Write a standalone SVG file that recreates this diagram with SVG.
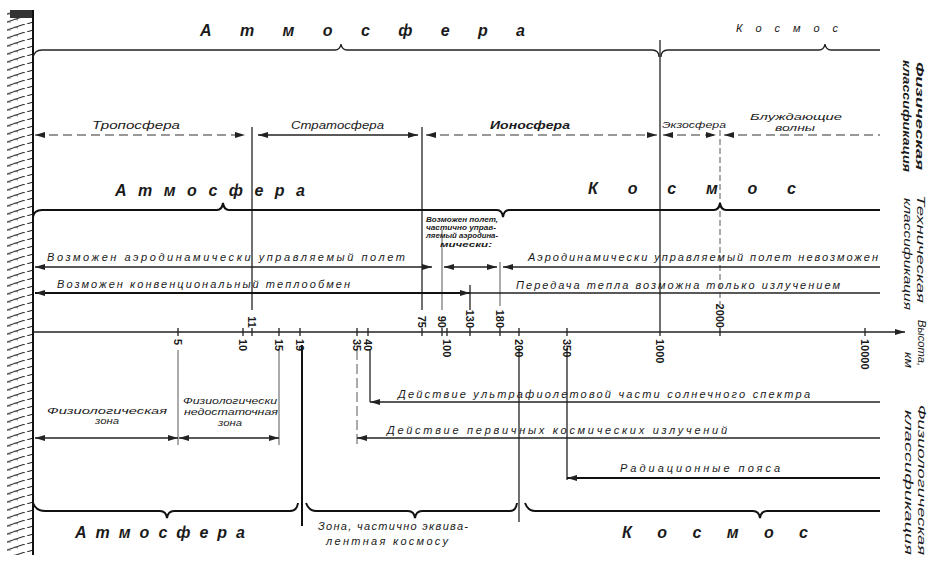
<svg xmlns="http://www.w3.org/2000/svg" width="931" height="562" viewBox="0 0 931 562">
<style>
  .ln{stroke:#222;stroke-width:1.3;fill:none}
  .thk{stroke:#111;stroke-width:2;fill:none}
  .thin{stroke:#444;stroke-width:0.9;fill:none}
  .dash{stroke:#333;stroke-width:1.1;fill:none;stroke-dasharray:9 5}
  .arr{marker-start:url(#ah);marker-end:url(#ah)}
  .arrS{marker-start:url(#ah)}
  .arrE{marker-end:url(#ah)}
  text{font-family:"Liberation Sans","DejaVu Sans",sans-serif;font-style:italic;fill:#1a1a1a}
  .big{font-size:16px;font-weight:bold}
  .mid{font-size:11px}
  .sm{font-size:9px}
  .num{font-size:11px;font-weight:bold;font-style:normal}
  .side{font-size:10px}
</style>
<defs>
  <marker id="ah" viewBox="0 0 10 6" refX="10" refY="3" markerWidth="10" markerHeight="6" markerUnits="userSpaceOnUse" orient="auto-start-reverse">
    <path d="M0,0 L10,3 L0,6 Z" fill="#222"/>
  </marker>
  <pattern id="hatch" width="26" height="8" patternUnits="userSpaceOnUse">
    <path d="M1,8 L25,0" stroke="#333" stroke-width="1.1"/>
    <path d="M6,6 L11,6 M14,3 L18,4" stroke="#555" stroke-width="0.8"/>
  </pattern>
</defs>

<g id="wall">
  <rect x="7" y="12" width="26" height="543" fill="url(#hatch)"/>
  <rect x="10" y="10" width="24" height="8" fill="#333"/>
  <line x1="33" y1="10" x2="33" y2="555" class="thk" stroke-width="2.5"/>
</g>

<g id="connectors">
  <!-- top physical brace -->
  <path class="ln" d="M33,58 Q34,50 42,50 H335 Q340,50 341,44 Q342,50 347,50 H652 Q659,50 659,57 M661,57 Q661,50 668,50 H819 Q824,50 825,44 Q826,50 831,50 H880"/>
  <!-- physical layers row -->
  <line x1="35" y1="135" x2="245" y2="135" class="dash arr"/>
  <line x1="258" y1="135" x2="418" y2="135" class="ln arr"/>
  <line x1="426" y1="135" x2="657" y2="135" class="dash arr"/>
  <line x1="663" y1="135" x2="716" y2="135" class="dash arr"/>
  <line x1="724" y1="135" x2="880" y2="135" class="dash arrS"/>
  <!-- verticals -->
  <line x1="252" y1="127" x2="310" y2="127" class="thin" visibility="hidden"/>
  <line x1="252" y1="127" x2="252" y2="310" class="ln"/>
  <line x1="422" y1="127" x2="422" y2="310" class="ln"/>
  <line x1="660" y1="40" x2="660" y2="336" class="ln" stroke="#555"/>
  <line x1="720" y1="130" x2="720" y2="305" class="thin" stroke-dasharray="6 3"/>
  <!-- tech brace -->
  <path class="thk" d="M33,217 Q34,210 42,210 H217 Q222,210 223,203 Q224,210 229,210 H497 Q502,210 503,217 Q504,210 509,210 H714 Q719,210 720,203 Q721,210 726,210 H880"/>
  <!-- tech rows -->
  <line x1="35" y1="267" x2="432" y2="267" class="ln arr"/>
  <line x1="444" y1="267" x2="497" y2="267" class="ln arr"/>
  <line x1="503" y1="267" x2="880" y2="267" class="ln arrS"/>
  <line x1="442" y1="230" x2="442" y2="310" class="thin"/>
  <line x1="500" y1="262" x2="500" y2="306" class="thin"/>
  <line x1="35" y1="293" x2="470" y2="293" class="thk arr"/>
  <line x1="470" y1="293" x2="880" y2="293" class="ln"/>
  <line x1="470" y1="285" x2="470" y2="310" class="ln"/>
  <!-- axis -->
  <line x1="33" y1="332" x2="905" y2="332" class="ln arrE"/>
  <path class="ln" d="M178,328 V336 M243,328 V336 M252,328 V336 M279,328 V336 M300,328 V336 M357,328 V336 M368,328 V336 M422,328 V336 M442,328 V336 M447,328 V336 M470,328 V336 M500,328 V336 M519,328 V336 M567,328 V336 M720,328 V336 M865,328 V336"/>
  <!-- physiological -->
  <line x1="178" y1="350" x2="178" y2="445" class="thin"/>
  <line x1="279" y1="350" x2="279" y2="445" class="thin"/>
  <line x1="302" y1="345" x2="302" y2="526" class="thk"/>
  <line x1="357" y1="350" x2="357" y2="445" class="thin" stroke-dasharray="10 4"/>
  <line x1="370" y1="350" x2="370" y2="402" class="ln"/>
  <line x1="519" y1="348" x2="519" y2="522" class="ln"/>
  <line x1="567" y1="348" x2="567" y2="480" class="ln"/>
  <line x1="370" y1="402" x2="880" y2="402" class="ln arrS"/>
  <line x1="35" y1="438" x2="178" y2="438" class="ln arr"/>
  <line x1="179" y1="438" x2="279" y2="438" class="ln arr"/>
  <line x1="357" y1="438" x2="880" y2="438" class="ln arrS"/>
  <line x1="567" y1="478" x2="880" y2="478" class="thk arrS"/>
  <!-- bottom braces -->
  <path class="thk" d="M33,503 Q36,511 45,511 H160 Q166,511 167,518 Q168,511 174,511 H290 Q297,511 298,503"/>
  <path class="thk" d="M306,503 Q309,511 316,511 H408 Q414,511 415,518 Q416,511 422,511 H510 Q516,511 517,503"/>
  <path class="thk" d="M525,503 Q528,511 535,511 H753 Q759,511 760,518 Q761,511 767,511 H880"/>
</g>

<g id="top-labels">
  <text class="big" x="200" y="36" textLength="325" lengthAdjust="spacing">А т м о с ф е р а</text>
  <text class="mid" x="736" y="32" textLength="102" lengthAdjust="spacing">К о с м о с</text>
</g>

<g id="physical-layers">
  <text class="mid" x="92" y="129" textLength="88" lengthAdjust="spacingAndGlyphs">Тропосфера</text>
  <text class="mid" x="291" y="129" textLength="93" lengthAdjust="spacingAndGlyphs">Стратосфера</text>
  <text class="mid" x="490" y="129" textLength="80" lengthAdjust="spacingAndGlyphs" font-weight="bold">Ионосфера</text>
  <text class="sm" x="662" y="128" textLength="64" lengthAdjust="spacingAndGlyphs">Экзосфера</text>
  <text class="sm" x="750" y="120" textLength="92" lengthAdjust="spacingAndGlyphs">Блуждающие</text>
  <text class="sm" x="775" y="131" textLength="40" lengthAdjust="spacingAndGlyphs">волны</text>
</g>

<g id="technical">
  <text class="big" x="115" y="196" textLength="190" lengthAdjust="spacing" font-weight="normal">А т м о с ф е р а</text>
  <text class="big" x="588" y="194" textLength="208" lengthAdjust="spacing" font-weight="normal">К о с м о с</text>
  <text x="426" y="222" font-size="8" font-weight="bold" textLength="72" lengthAdjust="spacingAndGlyphs">Возможен полет,</text>
  <text x="426" y="230" font-size="8" font-weight="bold" textLength="70" lengthAdjust="spacingAndGlyphs">частично управ-</text>
  <text x="426" y="238" font-size="8" font-weight="bold" textLength="72" lengthAdjust="spacingAndGlyphs">ляемый аэродина-</text>
  <text x="440" y="247" font-size="8" font-weight="bold" textLength="52" lengthAdjust="spacingAndGlyphs">мически:</text>
  <text class="mid" x="47" y="261" textLength="358" lengthAdjust="spacing">Возможен аэродинамически  управляемый  полет</text>
  <text class="mid" x="528" y="261" textLength="350" lengthAdjust="spacing">Аэродинамически управляемый полет невозможен</text>
  <text class="mid" x="57" y="288" textLength="293" lengthAdjust="spacing">Возможен конвенциональный  теплообмен</text>
  <text class="mid" x="516" y="289" textLength="324" lengthAdjust="spacing">Передача тепла возможна только излучением</text>
</g>

<g id="axis-labels">
  <text class="num" text-anchor="end" transform="translate(248,328) rotate(90)">11</text>
  <text class="num" text-anchor="end" transform="translate(418,328) rotate(90)">75</text>
  <text class="num" text-anchor="end" transform="translate(438,328) rotate(90)">90</text>
  <text class="num" text-anchor="end" transform="translate(466,328) rotate(90)">130</text>
  <text class="num" text-anchor="end" transform="translate(496,328) rotate(90)">180</text>
  <text class="num" text-anchor="end" transform="translate(716,328) rotate(90)">2000</text>
  <text class="num" transform="translate(174,339) rotate(90)">5</text>
  <text class="num" transform="translate(239,339) rotate(90)">10</text>
  <text class="num" transform="translate(275,339) rotate(90)">15</text>
  <text class="num" transform="translate(296,339) rotate(90)">19</text>
  <text class="num" transform="translate(353,339) rotate(90)">35</text>
  <text class="num" transform="translate(364,339) rotate(90)">40</text>
  <text class="num" transform="translate(443,339) rotate(90)">100</text>
  <text class="num" transform="translate(515,339) rotate(90)">200</text>
  <text class="num" transform="translate(563,339) rotate(90)">350</text>
  <text class="num" transform="translate(656,339) rotate(90)">1000</text>
  <text class="num" transform="translate(861,339) rotate(90)">10000</text>
</g>

<g id="physiological">
  <text class="mid" x="398" y="398" textLength="412" lengthAdjust="spacing">Действие ультрафиолетовой части солнечного спектра</text>
  <text class="mid" x="387" y="434" textLength="340" lengthAdjust="spacing">Действие первичных космических излучений</text>
  <text class="mid" x="620" y="472" textLength="160" lengthAdjust="spacing">Радиационные  пояса</text>
  <text class="sm" x="47" y="414" textLength="120" lengthAdjust="spacingAndGlyphs">Физиологическая</text>
  <text class="sm" x="95" y="424" textLength="24" lengthAdjust="spacingAndGlyphs">зона</text>
  <text class="sm" x="183" y="404" textLength="94" lengthAdjust="spacingAndGlyphs">Физиологически</text>
  <text class="sm" x="184" y="415" textLength="94" lengthAdjust="spacingAndGlyphs">недостаточная</text>
  <text class="sm" x="218" y="426" textLength="24" lengthAdjust="spacingAndGlyphs">зона</text>
  <text class="big" x="75" y="538" textLength="170" lengthAdjust="spacing" font-weight="normal">А т м о с ф е р а</text>
  <text class="mid" x="318" y="530" textLength="150" lengthAdjust="spacing">Зона, частично эквива-</text>
  <text class="mid" x="326" y="545" textLength="122" lengthAdjust="spacing">лентная космосу</text>
  <text class="big" x="622" y="538" textLength="186" lengthAdjust="spacing" font-weight="normal">К о с м о с</text>
</g>

<g id="side-labels">
  <text class="side" font-weight="bold" transform="translate(916,62) rotate(90)" textLength="108" lengthAdjust="spacingAndGlyphs">Физическая</text>
  <text class="side" font-weight="bold" transform="translate(903,60) rotate(90)" textLength="112" lengthAdjust="spacingAndGlyphs">классификация</text>
  <text class="side" transform="translate(917,195) rotate(90)" textLength="108" lengthAdjust="spacingAndGlyphs">Техническая</text>
  <text class="side" transform="translate(904,198) rotate(90)" textLength="112" lengthAdjust="spacingAndGlyphs">классификация</text>
  <text class="side" transform="translate(918,320) rotate(90)" textLength="46" lengthAdjust="spacingAndGlyphs">Высота,</text>
  <text class="side" transform="translate(905,352) rotate(90)" textLength="16" lengthAdjust="spacingAndGlyphs">км</text>
  <text class="side" transform="translate(918,405) rotate(90)" textLength="150" lengthAdjust="spacingAndGlyphs">Физиологическая</text>
  <text class="side" transform="translate(905,410) rotate(90)" textLength="145" lengthAdjust="spacingAndGlyphs">классификация</text>
</g>
</svg>
